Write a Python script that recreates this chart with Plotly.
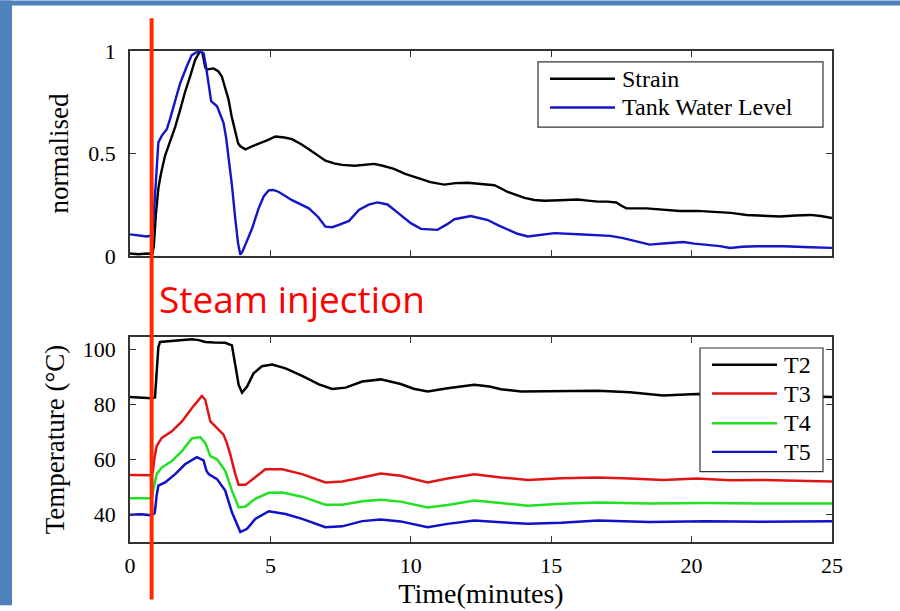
import plotly.graph_objects as go

# ---- recorded channels (time in minutes) ----
strain_t = [0, 0.3, 0.6, 0.80, 0.85, 0.92, 1.01, 1.10, 1.25, 1.40, 1.61, 1.80, 1.96, 2.15, 2.32,
            2.50, 2.58, 2.68, 2.74, 2.98, 3.15, 3.27, 3.40, 3.51, 3.62, 3.75, 3.85, 3.93, 4.11,
            4.35, 4.58, 4.9, 5.18, 5.5, 5.77, 6.1, 6.37, 6.7, 6.96, 7.3, 7.56, 8.0, 8.39, 8.69,
            9.0, 9.40, 9.8, 10.24, 10.7, 11.19, 11.6, 12.02, 12.5, 12.98, 13.2, 13.45, 13.8,
            14.05, 14.4, 14.76, 15.3, 15.95, 16.3, 16.67, 17.0, 17.32, 17.5, 17.68, 18.39, 19.0,
            19.58, 20.2, 20.77, 21.4, 21.96, 22.6, 23.15, 23.7, 24.23, 24.6, 25]
strain_v = [0.012, 0.008, 0.012, 0.01, 0.05, 0.2, 0.33, 0.40, 0.49, 0.55, 0.63, 0.72, 0.80, 0.88,
            0.957, 1.0, 0.99, 0.92, 0.91, 0.915, 0.90, 0.876, 0.82, 0.763, 0.68, 0.60, 0.55, 0.535,
            0.52, 0.535, 0.546, 0.565, 0.583, 0.578, 0.57, 0.545, 0.52, 0.49, 0.465, 0.45, 0.444,
            0.44, 0.445, 0.449, 0.44, 0.425, 0.40, 0.38, 0.36, 0.348, 0.355, 0.357, 0.35, 0.345,
            0.33, 0.312, 0.295, 0.283, 0.273, 0.269, 0.272, 0.275, 0.27, 0.265, 0.265, 0.261,
            0.245, 0.232, 0.232, 0.225, 0.219, 0.22, 0.216, 0.21, 0.2, 0.197, 0.192, 0.197, 0.2,
            0.195, 0.185]

level_t = [0, 0.3, 0.6, 0.77, 0.82, 0.87, 0.93, 1.01, 1.13, 1.31, 1.43, 1.55, 1.67, 1.79, 2.02,
           2.20, 2.44, 2.62, 2.70, 2.77, 2.89, 3.10, 3.33, 3.42, 3.51, 3.63, 3.75, 3.85, 3.93,
           4.0, 4.11, 4.35, 4.58, 4.76, 4.94, 5.10, 5.30, 5.77, 6.37, 6.7, 6.96, 7.2, 7.44, 7.80,
           8.15, 8.5, 8.81, 9.17, 9.5, 9.76, 10.0, 10.36, 10.95, 11.3, 11.55, 12.14, 12.74, 13.1,
           13.45, 13.8, 14.17, 14.6, 15.12, 15.95, 16.67, 17.1, 17.56, 18.0, 18.51, 19.1, 19.70,
           20.1, 20.54, 21.0, 21.37, 21.8, 22.32, 23.27, 24.23, 25]
level_v = [0.105, 0.10, 0.095, 0.10, 0.15, 0.25, 0.40, 0.554, 0.586, 0.618, 0.67, 0.73, 0.79,
           0.844, 0.924, 0.98, 1.0, 0.99, 0.93, 0.86, 0.755, 0.73, 0.65, 0.58, 0.49, 0.345, 0.18,
           0.06, 0.006, 0.02, 0.055, 0.135, 0.232, 0.29, 0.32, 0.322, 0.312, 0.272, 0.232, 0.19,
           0.143, 0.14, 0.151, 0.171, 0.224, 0.25, 0.261, 0.251, 0.215, 0.184, 0.16, 0.132, 0.127,
           0.155, 0.179, 0.195, 0.175, 0.15, 0.127, 0.108, 0.095, 0.102, 0.111, 0.106, 0.103,
           0.098, 0.087, 0.072, 0.055, 0.062, 0.068, 0.06, 0.055, 0.048, 0.039, 0.045, 0.047,
           0.047, 0.042, 0.039]

t2_t = [0, 0.4, 0.77, 0.89, 0.95, 1.01, 1.07, 1.30, 1.61, 2.00, 2.20, 2.45, 2.68, 3.0, 3.39, 3.63,
        3.70, 3.75, 3.87, 3.99, 4.17, 4.40, 4.70, 5.06, 5.54, 6.13, 6.73, 7.20, 7.68, 8.27, 8.93,
        9.64, 10.1, 10.6, 11.31, 12.26, 12.8, 13.21, 13.93, 15.36, 16.67, 17.8, 18.99, 20.18,
        21.5, 23.0, 24.0, 25.0]
t2_v = [82.8, 82.6, 82.3, 82.6, 92, 101, 102.8, 103.0, 103.4, 103.8, 103.8, 103.5, 102.8, 102.6,
        102.5, 101.6, 98, 94.4, 87.2, 84.4, 86.6, 91.4, 94.0, 94.6, 93.2, 90.5, 87.4, 85.7, 86.2,
        88.4, 89.2, 87.5, 85.8, 84.8, 86.0, 87.2, 86.6, 85.6, 84.8, 85.0, 85.1, 84.5, 83.3, 83.9,
        83.8, 83.2, 83.0, 82.8]

t3_t = [0, 0.4, 0.77, 0.82, 0.87, 0.95, 1.13, 1.49, 1.85, 2.20, 2.40, 2.56, 2.68, 2.78, 2.86, 3.04,
        3.33, 3.45, 3.57, 3.75, 3.87, 4.11, 4.46, 4.82, 5.42, 6.13, 6.96, 7.56, 8.27, 8.93, 9.64,
        10.6, 11.31, 12.26, 13.21, 14.17, 15.36, 16.67, 17.8, 18.99, 20.18, 21.37, 22.56, 23.75, 25]
t3_v = [54.4, 54.3, 54.3, 56, 60.7, 64.9, 67.9, 70.3, 73.9, 78.7, 81.0, 83.2, 81.8, 77, 73.9, 72.1,
        69.1, 66, 61.9, 54.7, 50.8, 50.8, 53.5, 56.5, 56.5, 54.7, 51.7, 52.0, 53.5, 54.9, 54.1,
        51.7, 53.1, 54.7, 53.5, 52.6, 53.2, 53.5, 53.1, 52.6, 53.1, 52.5, 52.6, 52.3, 52.0]

t4_t = [0, 0.77, 0.85, 0.95, 1.13, 1.49, 1.85, 2.20, 2.50, 2.68, 2.86, 3.10, 3.39, 3.63, 3.87, 4.11,
        4.46, 4.94, 5.42, 6.13, 6.96, 7.56, 8.27, 8.93, 9.64, 10.6, 11.31, 12.26, 13.21, 14.17,
        15.36, 16.67, 18.5, 20.5, 22.5, 25]
t4_v = [45.9, 45.9, 50, 54.7, 57.1, 59.5, 63.1, 67.7, 68.2, 66.1, 61.3, 60.1, 55.9, 48.7, 42.6,
        42.9, 45.7, 47.9, 48.0, 46.5, 43.6, 43.6, 44.8, 45.4, 44.7, 42.6, 43.5, 45.1, 44.2, 43.2,
        43.9, 44.4, 44.0, 44.2, 44.0, 44.0]

t5_t = [0, 0.4, 0.77, 0.88, 0.95, 1.01, 1.25, 1.61, 1.96, 2.38, 2.62, 2.72, 2.80, 3.10, 3.39, 3.63,
        3.93, 4.17, 4.46, 4.94, 5.54, 6.13, 6.96, 7.56, 8.27, 8.93, 9.64, 10.6, 11.31, 12.26,
        13.21, 14.17, 15.36, 16.67, 18.5, 20.5, 22.5, 25]
t5_v = [39.9, 40.1, 39.7, 40.5, 47, 50.5, 51.7, 54.7, 58.3, 60.9, 59.7, 56, 54.7, 52.9, 48.7, 40.8,
        33.6, 34.8, 38.4, 41.2, 40.2, 38.4, 35.4, 35.7, 37.6, 38.2, 37.5, 35.4, 36.6, 37.8, 37.2,
        36.6, 37.0, 37.8, 37.3, 37.6, 37.4, 37.6]

STEAM_ON = 0.77  # minutes

x_ticks = [0, 5, 10, 15, 20, 25]
top_y_ticks = [0, 0.5, 1]
top_y_text = ["0", "0.5", "1"]
bot_y_ticks = [40, 60, 80, 100]

# ---- styling ----
SERIF = "Liberation Serif"
W, H = 900, 611
L, R, T, B = 130, 832, 51, 547          # plot-area edges in pixels


def px(xp):
    return (xp - L) / (R - L)


def py(yp):
    return (B - yp) / (B - T)


top_dom = [py(258), 1.0]
bot_dom = [0.0, py(340)]

fig = go.Figure()

top_series = [
    ("Strain", strain_t, strain_v, "#000000"),
    ("Tank Water Level", level_t, level_v, "#1414c8"),
]
bot_series = [
    ("T2", t2_t, t2_v, "#000000"),
    ("T3", t3_t, t3_v, "#e01414"),
    ("T4", t4_t, t4_v, "#22e022"),
    ("T5", t5_t, t5_v, "#1010c8"),
]

for name, xs, ys, col in top_series:
    fig.add_trace(go.Scatter(x=xs, y=ys, mode="lines", name=name, xaxis="x", yaxis="y",
                             line=dict(color=col, width=2.4), showlegend=False))
for name, xs, ys, col in bot_series:
    fig.add_trace(go.Scatter(x=xs, y=ys, mode="lines", name=name, xaxis="x2", yaxis="y2",
                             line=dict(color=col, width=2.5), showlegend=False))

axis_common = dict(showline=True, linecolor="#333333", linewidth=1.5, mirror="ticks",
                   ticks="inside", ticklen=6, tickcolor="#333333", showgrid=False,
                   zeroline=False, tickfont=dict(family=SERIF, size=22, color="black"))

fig.update_layout(
    width=W, height=H,
    margin=dict(l=L, r=W - R, t=T, b=H - B),
    paper_bgcolor="white", plot_bgcolor="white",
    xaxis=dict(domain=[0, 1], anchor="y", range=[0, 25], tickvals=x_ticks,
               showticklabels=False, **axis_common),
    yaxis=dict(domain=top_dom, anchor="x", range=[0, 1], tickvals=top_y_ticks,
               ticktext=top_y_text, ticklabelstandoff=8,
               title=dict(text="normalised", font=dict(family=SERIF, size=27, color="black"),
                          standoff=12),
               **axis_common),
    xaxis2=dict(domain=[0, 1], anchor="y2", range=[0, 25], tickvals=x_ticks,
                ticklabelstandoff=3,
                title=dict(text="Time(minutes)", font=dict(family=SERIF, size=28, color="black"),
                           standoff=1),
                **axis_common),
    yaxis2=dict(domain=bot_dom, anchor="x2", range=[30, 104.6], tickvals=bot_y_ticks,
                ticklabelstandoff=8,
                title=dict(text="Temperature (°C)", font=dict(family=SERIF, size=27, color="black"),
                           standoff=10),
                **axis_common),
)

shapes = []
annotations = []

# slide frame: blue bars on the left and top edges
frame_blue = "#4f81bd"
shapes.append(dict(type="rect", xref="paper", yref="paper", x0=px(0), x1=px(12),
                   y0=py(H), y1=py(0), fillcolor=frame_blue, line=dict(width=0), layer="above"))
shapes.append(dict(type="rect", xref="paper", yref="paper", x0=px(0), x1=px(W),
                   y0=py(5), y1=py(0), fillcolor=frame_blue, line=dict(width=0), layer="above"))

# steam injection marker across both panels
shapes.append(dict(type="line", xref="x2", yref="paper", x0=STEAM_ON, x1=STEAM_ON,
                   y0=py(605), y1=py(18), line=dict(color="#ff2a00", width=4), layer="above"))
annotations.append(dict(text="Steam injection", xref="paper", yref="paper", x=px(157),
                        y=py(301), xanchor="left", yanchor="middle", showarrow=False,
                        font=dict(family="Open Sans", size=37, color="#ff0000")))


def draw_legend(x0, x1, y0, y1, rows, entries):
    shapes.append(dict(type="rect", xref="paper", yref="paper", x0=px(x0), x1=px(x1),
                       y0=py(y1), y1=py(y0), fillcolor="white",
                       line=dict(color="#333333", width=1.2), layer="above"))
    for (name, col), yr in zip(entries, rows):
        shapes.append(dict(type="line", xref="paper", yref="paper", x0=px(x0 + 12),
                           x1=px(x0 + 77), y0=py(yr), y1=py(yr),
                           line=dict(color=col, width=2.4), layer="above"))
        annotations.append(dict(text=name, xref="paper", yref="paper", x=px(x0 + 82),
                                y=py(yr), xanchor="left", yanchor="middle", showarrow=False,
                                font=dict(family=SERIF, size=24, color="black")))


draw_legend(538, 823, 62, 128, [79, 108], [(n, c) for n, _, _, c in top_series])
draw_legend(700, 823, 351, 476, [368, 397, 427, 456], [(n, c) for n, _, _, c in bot_series])

fig.update_layout(shapes=shapes, annotations=annotations)

fig.write_html("out.html")
